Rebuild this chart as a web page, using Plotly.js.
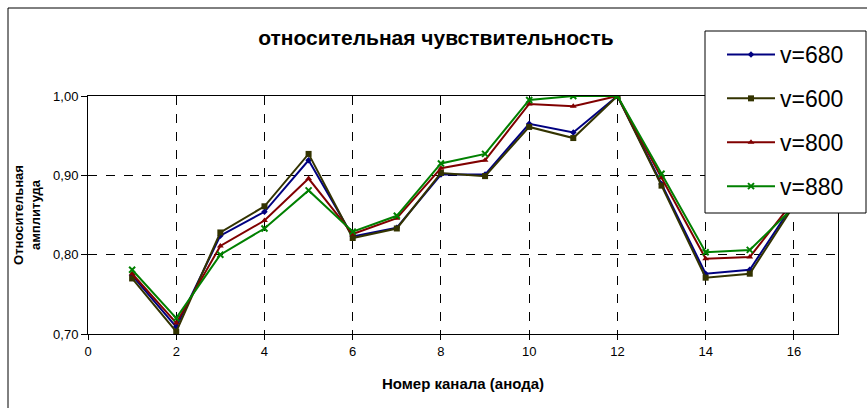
<!DOCTYPE html>
<html>
<head>
<meta charset="utf-8">
<script src="https://cdn.plot.ly/plotly-3.0.1.min.js"></script>
<style>
html,body{margin:0;padding:0;background:#fff;}
#chart{width:867px;height:408px;}
</style>
</head>
<body>
<div id="chart"></div>
<script>
const channels = [1,2,3,4,5,6,7,8,9,10,11,12,13,14,15,16];
const seriesNames = ["v=680","v=600","v=800","v=880"];
const v680 = [0.774,0.709,0.824,0.854,0.919,0.823,0.834,0.901,0.901,0.965,0.954,1.000,0.889,0.776,0.781,0.865];
const v600 = [0.770,0.703,0.828,0.861,0.927,0.821,0.833,0.903,0.899,0.961,0.947,1.000,0.887,0.771,0.776,0.862];
const v800 = [0.776,0.714,0.811,0.843,0.896,0.826,0.846,0.909,0.919,0.990,0.987,1.000,0.897,0.795,0.797,0.868];
const v880 = [0.781,0.720,0.800,0.833,0.881,0.829,0.849,0.915,0.927,0.995,1.000,1.000,0.902,0.803,0.806,0.860];
const xTicks = [0,2,4,6,8,10,12,14,16];
const yTicks = [0.70,0.80,0.90,1.00];

const colors = ["#000080","#333300","#800000","#008000"];
const symbols = ["diamond","square","triangle-up","x-thin"];
const sizes = [5,6,6,6];
const values = [v680,v600,v800,v880];

const traces = values.map((v,i)=>({
  x: channels, y: v, name: seriesNames[i], type: "scatter", mode: "lines+markers",
  legendgroup: "g"+i,
  line: {color: colors[i], width: 2},
  marker: {symbol: symbols[i], size: sizes[i], color: colors[i], line:{color: colors[i], width: i===3?2:0}}
}));

// plot area in pixels: x 88..838, y 96..334
const L=88, R=838, T=96, B=334, W=867, H=408;
const px = x => (x-L)/(R-L);
const py = y => (B-y)/(B-T);

const layout = {
  width: W, height: H,
  margin: {l: L, r: W-R, t: T, b: H-B},
  paper_bgcolor: "#fff", plot_bgcolor: "#fff",
  separators: ", ",
  font: {family: "Liberation Sans, Arial, sans-serif", color: "#000", size: 13},
  showlegend: true,
  title: {text: "<b>относительная чувствительность</b>", x: 436/W, xanchor: "center", y: 1-38/H, yanchor: "middle",
          font: {size: 21, family: "Liberation Sans, Arial, sans-serif", color: "#000"}},
  xaxis: {
    range: [0,17], tickvals: xTicks, ticktext: xTicks.map(String),
    showline: true, linecolor: "#000", linewidth: 1, mirror: true,
    ticks: "outside", ticklen: 5, tickcolor: "#000",
    showgrid: true, gridcolor: "#000", griddash: "dash", gridwidth: 1,
    zeroline: false, tickfont: {size: 13},
    title: {text: "<b>Номер канала (анода)</b>", font: {size: 15}, standoff: 20}
  },
  yaxis: {
    range: [0.70,1.00], tickvals: yTicks, tickformat: ".2f",
    showline: true, linecolor: "#000", linewidth: 1, mirror: true,
    ticks: "outside", ticklen: 6, tickcolor: "#000",
    showgrid: true, gridcolor: "#000", griddash: "dash", gridwidth: 1,
    zeroline: false, tickfont: {size: 13},
    title: {text: "<b>Относительная<br>амплитуда</b>", font: {size: 13}, standoff: 9}
  },
  legend: {
    x: px(722), y: py(33), xanchor: "left", yanchor: "top",
    borderwidth: 0, bgcolor: "rgba(0,0,0,0)",
    font: {size: 23, family: "Liberation Sans, Arial, sans-serif"},
    itemwidth: 48, traceorder: "grouped", tracegroupgap: 11
  },
  shapes: [
    {type: "rect", xref: "paper", yref: "paper", x0: px(8), x1: px(880), y0: py(420), y1: py(8),
     line: {color: "#000", width: 1}, fillcolor: "rgba(0,0,0,0)", layer: "below"},
    {type: "rect", xref: "paper", yref: "paper", x0: px(705), x1: px(866), y0: py(213), y1: py(31),
     line: {color: "#000", width: 1}, fillcolor: "#fff", layer: "above"}
  ]
};

Plotly.newPlot("chart", traces, layout, {displayModeBar: false, staticPlot: true});
</script>
</body>
</html>
